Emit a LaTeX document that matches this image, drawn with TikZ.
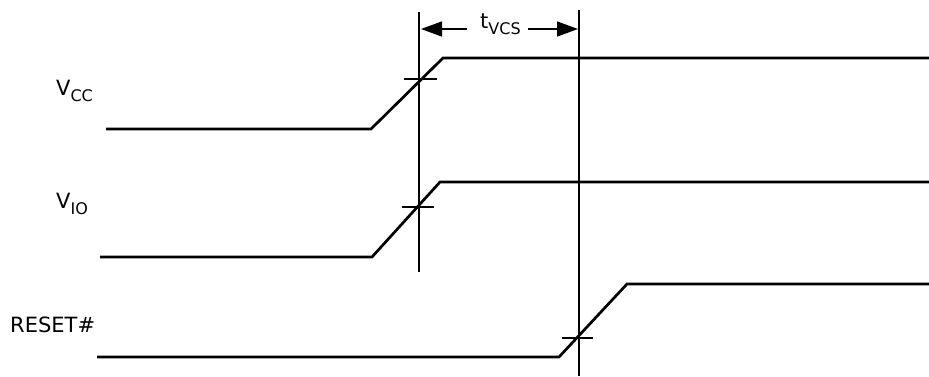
\documentclass[tikz,border=0pt]{standalone}
\usepackage{fontspec}
\setmainfont{DejaVu Sans}
\usetikzlibrary{arrows.meta}
\newcommand{\sublbl}[1]{\raisebox{-6pt}{\fontsize{16}{16}\selectfont #1}}
\begin{document}
\begin{tikzpicture}[x=1pt,y=-1pt,
  sig/.style={line width=2.7pt, line join=miter},
  guide/.style={line width=1.3pt},
  crosstick/.style={line width=1.1pt},
  lbl/.style={font=\fontsize{21}{24}\selectfont, inner sep=0pt},
  dimarrow/.style={line width=1.4pt, -{Triangle[length=21pt,width=15pt]}}]
\useasboundingbox (0,0) rectangle (929,376);

% VCC signal
\coordinate (c0) at (106,129); \coordinate (c1) at (371,129);
\coordinate (c2) at (443,58);  \coordinate (c3) at (929,58);
\draw[sig] (c0) -- (c1) -- (c2) -- (c3);
% VIO signal
\coordinate (i0) at (100,257); \coordinate (i1) at (372,257);
\coordinate (i2) at (440,182); \coordinate (i3) at (929,182);
\draw[sig] (i0) -- (i1) -- (i2) -- (i3);
% RESET# signal
\coordinate (r0) at (97,357);  \coordinate (r1) at (559,357);
\coordinate (r2) at (627,284); \coordinate (r3) at (929,284);
\draw[sig] (r0) -- (r1) -- (r2) -- (r3);

% guide lines
\coordinate (g1t) at (419,12); \coordinate (g1b) at (419,272);
\coordinate (g2t) at (579,10); \coordinate (g2b) at (579,376);
\draw[guide] (g1t) -- (g1b);
\draw[guide] (g2t) -- (g2b);

% crossing ticks
\coordinate (k1a) at (404,79);  \coordinate (k1b) at (437,79);
\coordinate (k2a) at (402,207); \coordinate (k2b) at (434,207);
\coordinate (k3a) at (562,338); \coordinate (k3b) at (593,338);
\draw[crosstick] (k1a) -- (k1b);
\draw[crosstick] (k2a) -- (k2b);
\draw[crosstick] (k3a) -- (k3b);

% labels
\node[lbl, anchor=base west] (lvcc) at (56,95) {V\sublbl{CC}};
\node[lbl, anchor=base west] (lvio) at (56,208) {V\sublbl{IO}};
\node[lbl, anchor=base west] (lrst) at (10,332) {RESET\#};
\node[lbl, anchor=base west] (ltvcs) at (480,28) {t\sublbl{VCS}};

% dimension arrows
\coordinate (a1s) at (467,29); \coordinate (a1e) at (421,29);
\coordinate (a2s) at (528,29); \coordinate (a2e) at (578,29);
\draw[dimarrow] (a1s) -- (a1e);
\draw[dimarrow] (a2s) -- (a2e);
\end{tikzpicture}
\end{document}
